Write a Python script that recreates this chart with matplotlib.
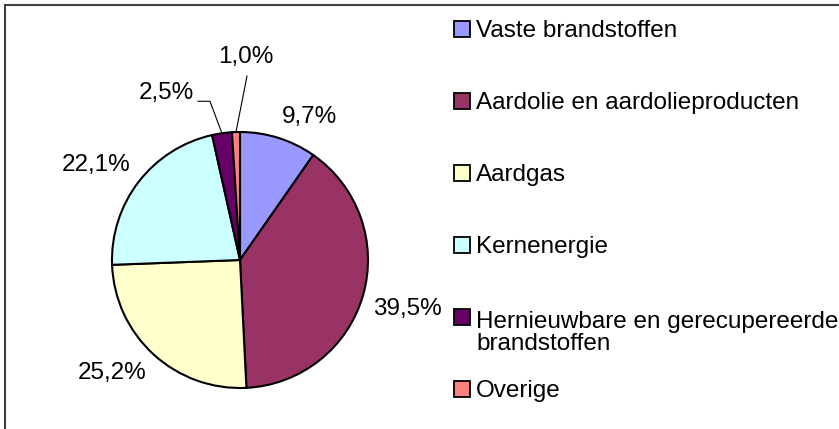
import matplotlib.pyplot as plt
import numpy as np
from matplotlib import patches

categories = ["Vaste brandstoffen", "Aardolie en aardolieproducten", "Aardgas",
              "Kernenergie", "Hernieuwbare en gerecupereerde\nbrandstoffen", "Overige"]
shares = [9.7, 39.5, 25.2, 22.1, 2.5, 1.0]
colors = ["#9999FF", "#993366", "#FFFFCC", "#CCFFFF", "#660066", "#FF8080"]

plt.rcParams["font.family"] = ["Liberation Sans", "DejaVu Sans"]
FS = 17.5

W, H = 839, 429
fig = plt.figure(figsize=(W / 100, H / 100), dpi=100)
ax = fig.add_axes([0, 0, 1, 1])

# axes in pixel units (y up), pie centre and radius in pixels
cx, cy, R = 240, H - 260, 128
wedges, _ = ax.pie(shares, colors=colors, startangle=90, counterclock=False,
                   center=(cx, cy), radius=R,
                   wedgeprops={"edgecolor": "black", "linewidth": 1.5})
ax.set_xlim(0, W)
ax.set_ylim(0, H)
ax.set_aspect("equal")
ax.axis("off")


def pct(v):
    return f"{v:.1f}%".replace(".", ",")


# outside-end labels for the big slices
gap = 10
for w, v in zip(wedges[:4], shares[:4]):
    a = np.deg2rad((w.theta1 + w.theta2) / 2)
    px = cx + (R + gap) * np.cos(a)
    py = cy + (R + gap) * np.sin(a)
    ha = "left" if np.cos(a) > 0.1 else ("right" if np.cos(a) < -0.1 else "center")
    va = "bottom" if np.sin(a) > 0 else "top"
    ax.text(px, py, pct(v), ha=ha, va=va, fontsize=FS)

# small slices get a leader line
for w, v, kink, end, ha in [(wedges[4], shares[4], (-12, 32), (-24, 32), "right"),
                            (wedges[5], shares[5], (11, 56), (11, 56), "center")]:
    a = np.deg2rad((w.theta1 + w.theta2) / 2)
    ex, ey = cx + R * np.cos(a), cy + R * np.sin(a)
    xs = [ex, ex + kink[0], ex + end[0]]
    ys = [ey, ey + kink[1], ey + end[1]]
    ax.plot(xs, ys, color="black", lw=0.8)
    if ha == "right":
        ax.text(xs[-1] - 4, ys[-1] + 2, pct(v), ha="right", va="baseline", fontsize=FS)
    else:
        ax.text(xs[-1] - 1, ys[-1] + 13, pct(v), ha="center", va="baseline", fontsize=FS)

# legend drawn by hand
line_h = 25
for i, (label, color) in enumerate(zip(categories, colors)):
    yc = H - (29 + 72 * i)
    ax.add_patch(patches.Rectangle((454, yc - 8), 16, 16, facecolor=color,
                                   edgecolor="black", lw=1.3))
    extra = label.count("\n") * line_h
    ax.text(476, yc - 8 - extra, label, ha="left", va="baseline", fontsize=FS,
            linespacing=1.0)

# chart border (only top and left visible)
ax.plot([5, 5, W + 10], [-10, H - 5, H - 5], color="#404040", lw=1.5,
        solid_joinstyle="miter")

plt.savefig("out.png", dpi=100)
